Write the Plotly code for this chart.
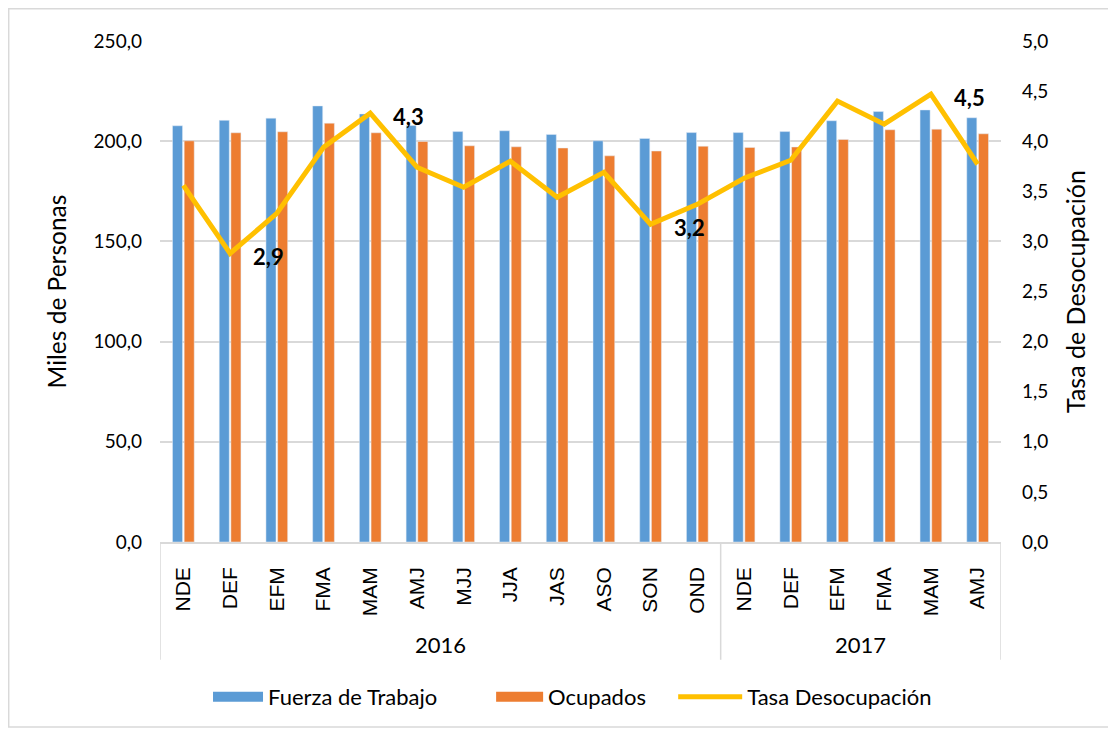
import plotly.graph_objects as go

# ---- data ----
months = ["NDE", "DEF", "EFM", "FMA", "MAM", "AMJ", "MJJ", "JJA", "JAS", "ASO", "SON", "OND",
          "NDE", "DEF", "EFM", "FMA", "MAM", "AMJ"]
years = ["2016"] * 12 + ["2017"] * 6
fuerza = [207.7, 210.4, 211.5, 217.6, 213.6, 207.8, 204.8, 205.2, 203.4, 200.2, 201.4, 204.3,
          204.3, 204.8, 210.2, 214.8, 215.6, 211.7]
ocupados = [200.2, 204.2, 204.7, 209.0, 204.2, 199.9, 197.7, 197.2, 196.6, 192.7, 195.1, 197.5,
            196.9, 197.1, 200.9, 205.7, 206.0, 203.7]
tasa = [3.56, 2.88, 3.28, 3.94, 4.28, 3.74, 3.54, 3.80, 3.44, 3.69, 3.17, 3.37,
        3.63, 3.81, 4.40, 4.17, 4.47, 3.77]
labelled = {1: "2,9", 4: "4,3", 10: "3,2", 16: "4,5"}
year_names = ["2016", "2017"]

BLUE = "#5B9BD5"
ORANGE = "#ED7D31"
YELLOW = "#FFC000"
GRID = "#D9D9D9"
FONT = "Lato"

idx = list(range(len(months)))

# page has an 8px body margin; figure is sized so the page fits the window
FIG_W, FIG_H = 1108, 721
ML, MT = 152, 33
PLOT_W, PLOT_H = 840.7, 502.0
MR = FIG_W - ML - PLOT_W
MB = FIG_H - MT - PLOT_H


def px_x(screen_x):
    """screen pixel x -> paper coordinate"""
    return (screen_x - 8 - ML) / PLOT_W


def px_y(screen_y):
    """screen pixel y -> paper coordinate"""
    return (MT + PLOT_H - (screen_y - 8)) / PLOT_H


fig = go.Figure()
fig.add_trace(go.Bar(x=idx, y=fuerza, name="Fuerza de Trabajo", marker_color=BLUE,
                     showlegend=False, yaxis="y"))
fig.add_trace(go.Bar(x=idx, y=ocupados, name="Ocupados", marker_color=ORANGE,
                     showlegend=False, yaxis="y"))
fig.add_trace(go.Scatter(x=idx, y=tasa, name="Tasa Desocupación", mode="lines",
                         line=dict(color=YELLOW, width=5), yaxis="y2", showlegend=False))

# legend entries (each in its own legend box so spacing matches)
fig.add_trace(go.Scatter(x=[None], y=[None], mode="lines", name="Fuerza de Trabajo",
                         line=dict(color=BLUE, width=14), legend="legend"))
fig.add_trace(go.Scatter(x=[None], y=[None], mode="lines", name="Ocupados",
                         line=dict(color=ORANGE, width=14), legend="legend2"))
fig.add_trace(go.Scatter(x=[None], y=[None], mode="lines", name="Tasa Desocupación",
                         line=dict(color=YELLOW, width=5), legend="legend3"))

annotations = []
for i, t in labelled.items():
    annotations.append(dict(x=idx[i], y=tasa[i], xref="x", yref="y2", text="<b>%s</b>" % t,
                            showarrow=False, xanchor="left", yanchor="middle", xshift=21,
                            yshift=-3, font=dict(family=FONT, size=22, color="black")))

# year labels (centered on their groups)
for yname in year_names:
    members = [i for i, y in enumerate(years) if y == yname]
    annotations.append(dict(x=(members[0] + members[-1]) / 2, y=0, xref="x", yref="paper",
                            yshift=-102, text=yname, showarrow=False, yanchor="middle",
                            font=dict(family=FONT, size=22, color="black")))

shapes = []
div_bottom = px_y(661)
bounds = [-0.5]
for k in range(1, len(years)):
    if years[k] != years[k - 1]:
        bounds.append(k - 0.5)
bounds.append(len(years) - 0.5)
for b in bounds:
    shapes.append(dict(type="line", xref="x", yref="paper", x0=b, x1=b, y0=0, y1=div_bottom,
                       line=dict(color=GRID, width=1.5)))
# chart border
shapes.append(dict(type="rect", xref="paper", yref="paper",
                   x0=px_x(8.75), x1=px_x(1115.25),
                   y0=px_y(728.25), y1=px_y(8.75),
                   line=dict(color=GRID, width=1.5)))

LEG_Y = px_y(697)
leg_common = dict(orientation="h", xanchor="left", yanchor="middle", y=LEG_Y,
                  font=dict(family=FONT, size=22), bgcolor="rgba(0,0,0,0)")

fig.update_layout(
    width=FIG_W, height=FIG_H,
    margin=dict(l=ML, r=MR, t=MT, b=MB),
    paper_bgcolor="white", plot_bgcolor="white",
    separators=",.",
    barmode="group", bargap=0.5, bargroupgap=0.14,
    font=dict(family=FONT, size=18, color="black"),
    xaxis=dict(tickmode="array", tickvals=idx, ticktext=months, tickangle=-90,
               range=[-0.5, len(months) - 0.5], showgrid=False, zeroline=False,
               showline=True, linecolor=GRID, linewidth=1.5, ticks="",
               ticklabelstandoff=15,
               tickfont=dict(family="Liberation Sans", size=21, color="black")),
    yaxis=dict(range=[0, 250], dtick=50, tickformat=".1f", showgrid=True, gridcolor=GRID,
               gridwidth=1.5, zeroline=False, showline=False, ticks="",
               ticklabelstandoff=17,
               title=dict(text="Miles de Personas", standoff=20,
                          font=dict(family=FONT, size=24.5)),
               tickfont=dict(family=FONT, size=19)),
    yaxis2=dict(range=[0, 5], dtick=0.5, tickformat=".1f", overlaying="y", side="right",
                showgrid=False, zeroline=False, showline=False, ticks="",
                ticklabelstandoff=20,
                title=dict(text="Tasa de Desocupación", standoff=20,
                           font=dict(family=FONT, size=25)),
                tickfont=dict(family=FONT, size=19)),
    legend=dict(leg_common, x=px_x(213 - 5), itemwidth=50),
    legend2=dict(leg_common, x=px_x(495 - 4), itemwidth=47),
    legend3=dict(leg_common, x=px_x(676 - 3), itemwidth=64),
    annotations=annotations,
    shapes=shapes,
)

fig.write_html("out.html")
